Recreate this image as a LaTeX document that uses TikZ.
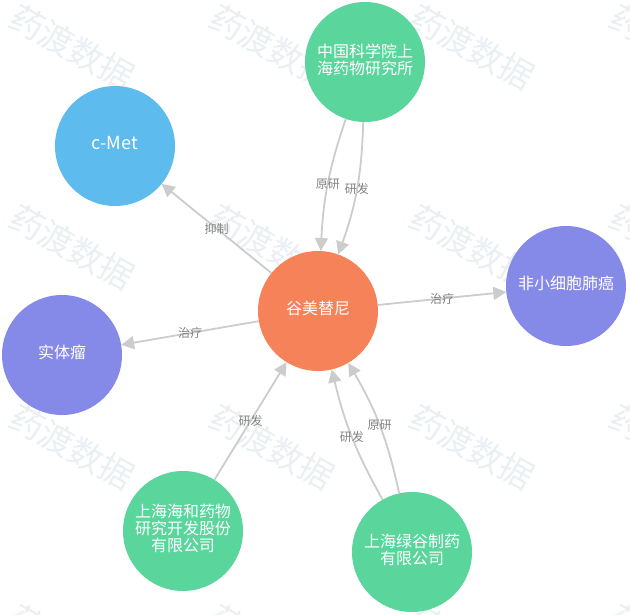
\documentclass[tikz,border=0pt]{standalone}
\usepackage{fontspec}
\usepackage{xcolor}
\usepackage{tikz}
\usetikzlibrary{arrows.meta,positioning}
\setmainfont{Noto Sans CJK SC}
\setlength{\lineskiplimit}{-10pt}
\definecolor{drugc}{HTML}{F6825A}
\definecolor{orgc}{HTML}{5AD59B}
\definecolor{targetc}{HTML}{5DBBEE}
\definecolor{diseasec}{HTML}{8589E8}
\definecolor{markc}{HTML}{EAEFF3}

\begin{document}
\begin{tikzpicture}[
    x=1pt, y=1pt,
    on grid,
    entity/.style={circle, minimum size=120pt, inner sep=0pt, outer sep=0pt, text=white, align=center, text depth=6pt, font=\fontsize{16}{17}\selectfont},
    arrow/.style={-{Triangle[length=13pt,width=13pt]}, line width=1.8pt, draw=black!20},
    edgelabel/.style={font=\fontsize{12}{14}\selectfont, text=black!50, inner sep=0pt},
    watermark/.style={font=\fontsize{34}{36}\selectfont, text=markc, rotate=-29, inner sep=0pt}
]
    \useasboundingbox (0,0) rectangle (630,-614);

    % Watermark
    \foreach \wx in {72,272,472,672}
        \foreach \wy in {47,247,447,647}
            \node[watermark] (mark\wx\wy) at (\wx,-\wy) {药渡数据};

    % Drug
    \node[entity, fill=drugc] (drug) at (318,-311) {谷美替尼};

    % Organisations
    \node[entity, fill=orgc, above right=249pt and 47pt of drug] (simm) {中国科学院上\\海药物研究所};
    \node[entity, fill=orgc, below left=220pt and 135pt of drug] (haihe) {上海海和药物\\研究开发股份\\有限公司};
    \node[entity, fill=orgc, below right=241pt and 94pt of drug] (lvgu) {上海绿谷制药\\有限公司};

    % Target
    \node[entity, fill=targetc, font=\fontsize{18}{20}\selectfont, above left=165pt and 203pt of drug] (cmet) {c-Met};

    % Diseases
    \node[entity, fill=diseasec, above right=25pt and 248pt of drug] (nsclc) {非小细胞肺癌};
    \node[entity, fill=diseasec, below left=44pt and 256pt of drug] (solid) {实体瘤};

    % Connections
    \draw[arrow] (drug) -- node[edgelabel] {抑制} (cmet);
    \draw[arrow] (drug) -- node[edgelabel] {治疗} (nsclc);
    \draw[arrow] (drug) -- node[edgelabel] {治疗} (solid);
    \draw[arrow] (simm) to[bend right=8] node[edgelabel] {原研} (drug);
    \draw[arrow] (simm) to[bend left=9] node[edgelabel] {研发} (drug);
    \draw[arrow] (haihe) -- node[edgelabel] {研发} (drug);
    \draw[arrow] (lvgu) to[bend right=9] node[edgelabel] {原研} (drug);
    \draw[arrow] (lvgu) to[bend left=8] node[edgelabel] {研发} (drug);
\end{tikzpicture}
\end{document}
